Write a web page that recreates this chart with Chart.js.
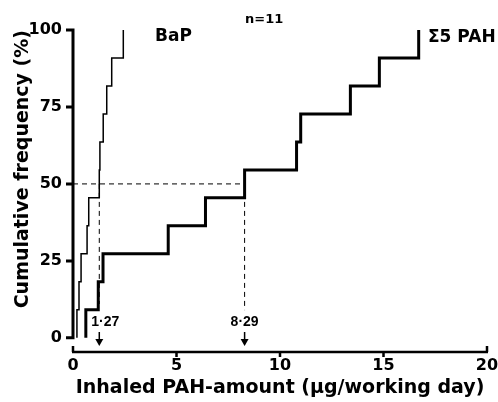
<!DOCTYPE html>
<html>
<head>
  <meta charset="UTF-8" />
  <title>Cumulative frequency of inhaled PAH</title>
  <script src="https://cdn.jsdelivr.net/npm/chart.js"></script>
  <style>
    html, body { margin: 0; padding: 0; background: #fff; }
    #wrap { width: 498px; height: 402px; }
  </style>
</head>
<body>
  <div id="wrap"><canvas id="grafico"></canvas></div>

  <script>
    // cumulative frequency (n = 11) in percent
    const cumPct = [9.1, 18.2, 27.3, 36.4, 45.5, 54.5, 63.6, 72.7, 81.8, 90.9, 100];
    // sorted individual amounts, ug / working day
    const bapValues = [0.19, 0.29, 0.39, 0.68, 0.76, 1.27, 1.3, 1.46, 1.63, 1.87, 2.43];
    const pahValues = [0.62, 1.22, 1.45, 4.6, 6.4, 8.29, 10.8, 11.0, 13.4, 14.8, 16.7];
    const medians = [1.27, 8.29];
    const medianLabels = ['1·27', '8·29'];
    const xTicks = [0, 5, 10, 15, 20];
    const yTicks = [0, 25, 50, 75, 100];

    const FONT = 'DejaVu Sans, sans-serif';
    const FONT2 = 'Liberation Sans, Arial, sans-serif';

    function stepData(vals) {
      const pts = [{ x: vals[0], y: 0 }];
      vals.forEach((v, i) => pts.push({ x: v, y: cumPct[i] }));
      return pts;
    }

    // axis lines, tick marks and text labels
    const extras = {
      id: 'extras',
      afterDraw(chart) {
        const ctx = chart.ctx;
        const xs = chart.scales.x, ys = chart.scales.y;
        const left = chart.chartArea.left, bottom = chart.chartArea.bottom;
        ctx.save();
        ctx.strokeStyle = '#000';
        ctx.lineWidth = 3;
        ctx.lineCap = 'butt';
        // y axis
        ctx.beginPath();
        ctx.moveTo(left, ys.getPixelForValue(100) - 1.5);
        ctx.lineTo(left, ys.getPixelForValue(0) + 1.5);
        yTicks.forEach(v => {
          const p = ys.getPixelForValue(v);
          ctx.moveTo(left + 1, p);
          ctx.lineTo(left - 7, p);
        });
        ctx.stroke();
        // x axis
        ctx.lineWidth = 2.5;
        ctx.beginPath();
        ctx.moveTo(xs.getPixelForValue(0) - 1, bottom);
        ctx.lineTo(xs.getPixelForValue(20) + 1, bottom);
        xTicks.forEach(v => {
          const p = xs.getPixelForValue(v);
          ctx.moveTo(p, bottom);
          ctx.lineTo(p, (v === 0 || v === 20) ? bottom - 6 : bottom + 5);
        });
        ctx.stroke();

        // median labels and arrows
        ctx.fillStyle = '#000';
        ctx.textAlign = 'center';
        ctx.textBaseline = 'middle';
        ctx.font = 'bold 14px ' + FONT2;
        const shift = [6, 0];
        medians.forEach((m, i) => {
          const px = xs.getPixelForValue(m);
          ctx.fillText(medianLabels[i], px + shift[i], 322);
          ctx.lineWidth = 1.5;
          ctx.beginPath();
          ctx.moveTo(px, 332);
          ctx.lineTo(px, 342);
          ctx.stroke();
          ctx.beginPath();
          ctx.moveTo(px - 4, 339);
          ctx.lineTo(px + 4, 339);
          ctx.lineTo(px, 346);
          ctx.closePath();
          ctx.fill();
        });

        // series names
        ctx.font = 'bold 17px ' + FONT;
        ctx.textAlign = 'left';
        ctx.fillText('BaP', 155, 37);
        ctx.fillText('Σ5 PAH', 428, 38);
        ctx.font = 'bold 13px ' + FONT;
        ctx.fillText('n=11', 245, 20);
        ctx.restore();
      }
    };

    new Chart(document.getElementById('grafico'), {
      type: 'line',
      data: {
        datasets: [
          {
            label: 'BaP',
            data: stepData(bapValues),
            stepped: 'before',
            borderColor: '#000',
            borderWidth: 1.5,
            pointRadius: 0
          },
          {
            label: 'Σ5 PAH',
            data: stepData(pahValues),
            stepped: 'before',
            borderColor: '#000',
            borderWidth: 3,
            pointRadius: 0
          },
          {
            label: '50%',
            data: [{ x: 0, y: 50 }, { x: medians[1], y: 50 }],
            borderColor: '#000',
            borderWidth: 1,
            borderDash: [5, 4],
            pointRadius: 0
          },
          {
            label: 'median BaP',
            data: [{ x: medians[0], y: 50 }, { x: medians[0], y: 11 }],
            borderColor: '#000',
            borderWidth: 1,
            borderDash: [5, 4],
            pointRadius: 0
          },
          {
            label: 'median PAH',
            data: [{ x: medians[1], y: 50 }, { x: medians[1], y: 9 }],
            borderColor: '#000',
            borderWidth: 1,
            borderDash: [5, 4],
            pointRadius: 0
          }
        ]
      },
      options: {
        responsive: true,
        maintainAspectRatio: false,
        animation: false,
        layout: { padding: { left: 0, top: 30, right: 11, bottom: 0 } },
        plugins: {
          legend: { display: false },
          tooltip: { enabled: false }
        },
        scales: {
          x: {
            type: 'linear',
            min: 0,
            max: 20,
            grid: { display: false, drawTicks: false },
            border: { display: false },
            ticks: {
              stepSize: 5,
              padding: 4,
              color: '#000',
              font: { family: FONT, size: 16, weight: 'bold' }
            },
            title: {
              display: true,
              text: 'Inhaled PAH-amount (µg/working day)',
              color: '#000',
              padding: { top: 0, bottom: 3 },
              font: { family: FONT, size: 19, weight: 'bold' }
            },
            afterFit(scale) {
              scale.height = 50;
              scale.paddingRight = 0;
            }
          },
          y: {
            type: 'linear',
            min: -4.6,
            max: 100,
            grid: { display: false, drawTicks: false },
            border: { display: false },
            afterBuildTicks(scale) { scale.ticks = yTicks.map(v => ({ value: v })); },
            ticks: {
              padding: 11,
              color: '#000',
              font: { family: FONT, size: 16, weight: 'bold' }
            },
            title: {
              display: true,
              text: 'Cumulative frequency (%)',
              align: 'end',
              color: '#000',
              padding: { top: 12, bottom: 0 },
              font: { family: FONT, size: 19, weight: 'bold' }
            },
            afterFit(scale) { scale.width = 73; }
          }
        }
      },
      plugins: [extras]
    });
  </script>
</body>
</html>
